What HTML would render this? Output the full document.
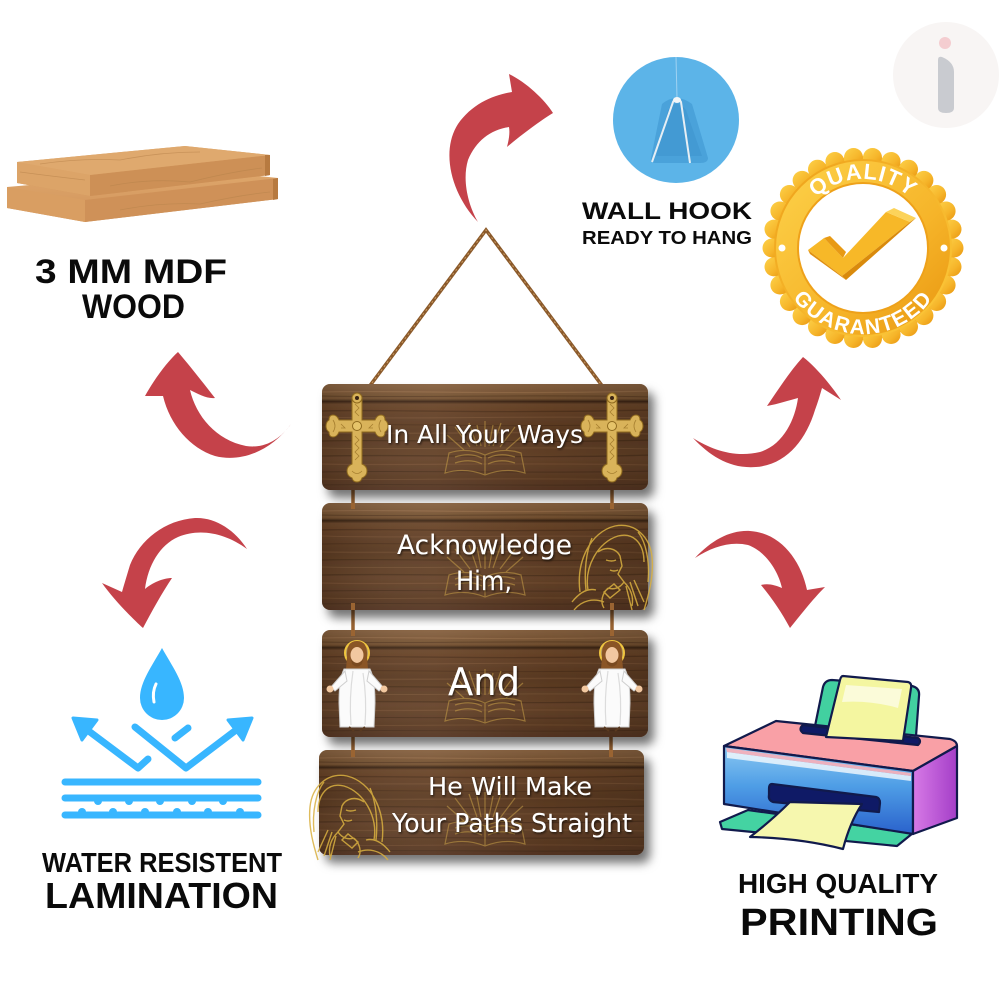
<!DOCTYPE html>
<html><head><meta charset="utf-8"><title>Wall hanging</title>
<style>
html,body{margin:0;padding:0;background:#fff;}
svg{display:block;}
.lbl{font-family:"Liberation Sans",Arial,sans-serif;font-weight:bold;fill:#0a0a0a;}
.bt{font-family:"DejaVu Sans","Liberation Sans",sans-serif;fill:#fff;}
</style></head>
<body>
<svg width="1000" height="1000" viewBox="0 0 1000 1000" xmlns="http://www.w3.org/2000/svg">
<defs>
  <linearGradient id="wood" x1="0" y1="0" x2="0" y2="1">
    <stop offset="0" stop-color="#86603f"/>
    <stop offset="0.14" stop-color="#73502f"/>
    <stop offset="0.165" stop-color="#3a2414"/>
    <stop offset="0.19" stop-color="#6a4529"/>
    <stop offset="0.45" stop-color="#5b3a22"/>
    <stop offset="0.7" stop-color="#664329"/>
    <stop offset="1" stop-color="#553520"/>
  </linearGradient>
  <linearGradient id="woodH" x1="0" y1="0" x2="1" y2="0">
    <stop offset="0" stop-color="#000" stop-opacity="0.12"/>
    <stop offset="0.35" stop-color="#fff" stop-opacity="0.05"/>
    <stop offset="0.7" stop-color="#000" stop-opacity="0.05"/>
    <stop offset="1" stop-color="#000" stop-opacity="0.15"/>
  </linearGradient>
  <filter id="sh" x="-10%" y="-20%" width="130%" height="160%">
    <feDropShadow dx="6" dy="8" stdDeviation="5" flood-color="#000" flood-opacity="0.55"/>
  </filter>
  <filter id="tsh" x="-10%" y="-30%" width="120%" height="160%">
    <feDropShadow dx="1" dy="1.5" stdDeviation="1" flood-color="#000" flood-opacity="0.6"/>
  </filter>
  <linearGradient id="gold" x1="0" y1="0" x2="1" y2="1">
    <stop offset="0" stop-color="#fdd24a"/>
    <stop offset="0.6" stop-color="#f6b52a"/>
    <stop offset="1" stop-color="#e8950f"/>
  </linearGradient>
  <linearGradient id="gold2" x1="1" y1="1" x2="0" y2="0">
    <stop offset="0" stop-color="#fcc93a"/>
    <stop offset="1" stop-color="#eea11a"/>
  </linearGradient>
  <linearGradient id="pfront" x1="0" y1="0" x2="0" y2="1">
    <stop offset="0" stop-color="#8ac8f2"/>
    <stop offset="0.45" stop-color="#4f9ee6"/>
    <stop offset="1" stop-color="#2a62cc"/>
  </linearGradient>
  <linearGradient id="pside" x1="0" y1="0" x2="1" y2="0">
    <stop offset="0" stop-color="#d77ae6"/>
    <stop offset="1" stop-color="#a43ec8"/>
  </linearGradient>
  <linearGradient id="plank" x1="0" y1="0" x2="0" y2="1">
    <stop offset="0" stop-color="#dfa86c"/>
    <stop offset="1" stop-color="#d0925a"/>
  </linearGradient>
  <g id="grain">
    <path d="M0,8 C80,6 170,11 330,7" stroke="#a07550" stroke-width="1.2" fill="none" opacity="0.5"/>
    <path d="M0,12 C90,14 200,10 330,13" stroke="#4a2e1a" stroke-width="1" fill="none" opacity="0.5"/>
    <path d="M0,27 C60,25 150,30 330,26" stroke="#3c2414" stroke-width="1.3" fill="none" opacity="0.45"/>
    <path d="M0,33 C100,36 210,31 330,34" stroke="#8a6040" stroke-width="1" fill="none" opacity="0.45"/>
    <path d="M0,41 C70,39 180,44 330,40" stroke="#3c2414" stroke-width="1" fill="none" opacity="0.4"/>
    <path d="M0,49 C120,51 220,46 330,50" stroke="#83593a" stroke-width="1.5" fill="none" opacity="0.4"/>
    <path d="M0,57 C90,55 170,60 330,56" stroke="#33200f" stroke-width="1.2" fill="none" opacity="0.4"/>
    <path d="M0,64 C80,66 200,62 330,65" stroke="#8c6344" stroke-width="1" fill="none" opacity="0.4"/>
    <path d="M0,72 C110,70 200,75 330,71" stroke="#3a2313" stroke-width="1.3" fill="none" opacity="0.45"/>
    <path d="M0,80 C70,82 190,78 330,81" stroke="#8a6040" stroke-width="1.2" fill="none" opacity="0.4"/>
    <path d="M0,88 C100,86 210,90 330,87" stroke="#33200f" stroke-width="1" fill="none" opacity="0.4"/>
    <path d="M0,95 C60,97 170,93 330,96" stroke="#8a6040" stroke-width="1" fill="none" opacity="0.35"/>
    <path d="M0,101 C90,99 220,103 330,100" stroke="#3a2313" stroke-width="1" fill="none" opacity="0.4"/>
  </g>
  <g id="bible" fill="none" stroke="#c8a048" stroke-width="1.2" opacity="0.55">
    <path d="M-40,18 L-36,-2 Q-18,-8 0,0 Q18,-8 36,-2 L40,18 Q20,12 0,20 Q-20,12 -40,18 Z"/>
    <path d="M0,0 L0,20"/>
    <path d="M-30,2 Q-15,-3 -3,3 M-30,8 Q-15,3 -3,9 M30,2 Q15,-3 3,3 M30,8 Q15,3 3,9"/>
    <path d="M0,-8 L0,-34 M-8,-9 L-16,-32 M8,-9 L16,-32 M-15,-8 L-30,-28 M15,-8 L30,-28 M-21,-5 L-38,-20 M21,-5 L38,-20 M-4,-9 L-8,-30 M4,-9 L8,-30"/>
  </g>
  <g id="cross">
    <path d="M-5,2 L5,2 L5,22 L18,22 Q20,17 24,17 Q28,17 28,22 Q31,24 31,28 Q31,32 28,34 Q28,39 24,39 Q20,39 18,34 L5,34 L5,66 Q10,68 10,73 Q10,78 5,80 Q4,84 0,84 Q-4,84 -5,80 Q-10,78 -10,73 Q-10,68 -5,66 L-5,34 L-18,34 Q-20,39 -24,39 Q-28,39 -28,34 Q-31,32 -31,28 Q-31,24 -28,22 Q-28,17 -24,17 Q-20,17 -18,22 L-5,22 Z" fill="#d9b35a" stroke="#8f6a1e" stroke-width="1"/>
    <g fill="none" stroke="#9a7326" stroke-width="0.8" opacity="0.8">
      <path d="M-2,6 L2,10 L-2,14 L2,18 M-2,38 L2,42 L-2,46 L2,50 L-2,54 L2,58 L-2,62"/>
      <path d="M-24,22 Q-20,28 -24,34 M24,22 Q20,28 24,34 M-5,73 Q0,78 5,73"/>
      <path d="M-16,26 L-12,30 L-16,30 M16,26 L12,30 L16,30"/>
    </g>
    <circle cx="0" cy="28" r="4.5" fill="#e6c46a" stroke="#8f6a1e" stroke-width="1"/>
    <circle cx="0" cy="0" r="5" fill="#d9b35a" stroke="#8f6a1e" stroke-width="1"/>
    <circle cx="0" cy="0" r="2" fill="#3a2414"/>
  </g>
  <g id="jesus">
    <circle cx="0" cy="-30" r="12" fill="#f5e08a" opacity="0.55"/>
    <circle cx="0" cy="-30" r="12" fill="none" stroke="#f0c640" stroke-width="2"/>
    <path d="M-10,-26 Q-11,-42 0,-42 Q11,-42 10,-26 L11,-14 L-11,-14 Z" fill="#8a5526"/>
    <ellipse cx="0" cy="-28" rx="6.5" ry="8" fill="#f2c8a0"/>
    <path d="M-6,-24 Q0,-16 6,-24 L5,-19 Q0,-14 -5,-19 Z" fill="#7a4a20"/>
    <path d="M-13,-14 L13,-14 Q18,-4 18,20 L17,44 L-17,44 L-18,20 Q-18,-4 -13,-14 Z" fill="#fbfbfb" stroke="#cfcfcf" stroke-width="1"/>
    <path d="M-12,-12 L-26,4 L-22,8 L-10,-2 Z M12,-12 L26,4 L22,8 L10,-2 Z" fill="#fbfbfb" stroke="#cfcfcf" stroke-width="1"/>
    <circle cx="-27" cy="6" r="3.5" fill="#f2c8a0"/>
    <circle cx="27" cy="6" r="3.5" fill="#f2c8a0"/>
    <path d="M-4,-12 Q-8,15 -6,42 M6,-10 Q10,15 8,42" stroke="#dcdcdc" fill="none" stroke-width="1.2"/>
    <path d="M-8,44 L-3,48 M3,48 L8,44" stroke="#5a3a20" stroke-width="2"/>
  </g>
  <g id="pray" fill="none" stroke="#d9b040" stroke-width="1.4" opacity="0.85">
    <path d="M-30,30 C-34,0 -20,-30 5,-36 C25,-40 40,-25 42,-5 C44,15 38,35 34,48"/>
    <path d="M-22,28 C-26,5 -12,-20 8,-26 C24,-30 34,-18 34,0"/>
    <path d="M-12,-10 C-4,-16 6,-14 10,-6 L12,4 L8,12 L14,20 C10,26 4,28 -2,26"/>
    <path d="M-4,-2 Q2,0 6,-2 M0,8 Q4,10 8,8"/>
    <path d="M-2,26 C-8,32 -10,40 -6,46 M14,20 C20,26 24,34 22,44"/>
    <path d="M-6,30 L4,22 L10,28 L0,36 Z"/>
    <path d="M-36,48 C-28,38 -16,36 -6,40 M-38,40 C-30,30 -22,26 -14,28"/>
    <path d="M20,20 L28,44 M24,18 L34,40 M16,24 L22,48"/>
    <path d="M-18,-24 C-24,-10 -26,10 -24,28 M28,-30 C36,-20 40,0 38,20"/>
  </g>
  <clipPath id="c1"><rect x="322" y="384" width="326" height="106" rx="8"/></clipPath>
  <clipPath id="c2"><rect x="322" y="503" width="326" height="107" rx="8"/></clipPath>
  <clipPath id="c3"><rect x="322" y="630" width="326" height="107" rx="8"/></clipPath>
  <clipPath id="c4"><rect x="319" y="750" width="325" height="105" rx="8"/></clipPath>
  <path id="qa" d="M794,248 A69,69 0 0 1 932,248"/>
  <path id="ga" d="M777,248 A86,86 0 0 0 949,248"/>
</defs>

<rect width="1000" height="1000" fill="#fff"/>

<!-- watermark -->
<circle cx="946" cy="75" r="53" fill="#f8f5f4"/>
<circle cx="945" cy="43" r="6" fill="#f4cdd0"/>
<path d="M938,60 Q938,56 942,57 Q954,62 954,72 L954,108 Q954,113 946,113 Q938,113 938,108 Z" fill="#c9cbd0"/>

<!-- wood planks -->
<g>
  <path d="M7,187 L200,170 L278,178 L278,199 L85,222 L7,208 Z" fill="url(#plank)"/>
  <path d="M7,187 L85,200 L85,222 L7,208 Z" fill="#d99e62"/>
  <path d="M85,200 L278,178 L278,199 L85,222 Z" fill="#cf9158"/>
  <path d="M17,162 L185,146 L270,155 L270,175 L90,196 L17,183 Z" fill="url(#plank)"/>
  <path d="M17,162 L90,175 L90,196 L17,183 Z" fill="#dca468"/>
  <path d="M90,175 L270,155 L270,175 L90,196 Z" fill="#cd9056"/>
  <path d="M17,162 L185,146 L270,155 L90,175 Z" fill="#dfa96e"/>
  <path d="M265,155 L270,155 L270,175 L265,176 Z" fill="#b77a40"/>
  <path d="M273,179 L278,178 L278,199 L273,200 Z" fill="#b77a40"/>
  <g fill="none" stroke="#b9844c" stroke-width="0.8" opacity="0.6">
    <path d="M40,164 Q80,158 120,160 Q160,152 200,152"/>
    <path d="M110,186 Q150,178 190,182 Q230,172 262,168"/>
    <path d="M120,210 Q160,202 200,204 Q240,195 270,192"/>
    <path d="M20,172 Q50,176 85,180"/>
  </g>
</g>
<text class="lbl" x="35" y="283" font-size="34" textLength="192" lengthAdjust="spacingAndGlyphs">3 MM MDF</text>
<text class="lbl" x="82" y="318" font-size="34" textLength="103" lengthAdjust="spacingAndGlyphs">WOOD</text>

<!-- wall hook -->
<circle cx="676" cy="120" r="63" fill="#5cb4e8"/>
<path d="M676,57 L677,98" stroke="#9fd2f2" stroke-width="1"/>
<path d="M662,104 Q676,92 692,104 L708,158 Q708,163 700,163 L656,163 Q650,163 651,158 Z" fill="#4aa2da"/>
<path d="M668,110 Q676,98 686,110 L702,156 L656,156 Z" fill="#3f95cf" opacity="0.6"/>
<path d="M652,162 L673,102 Q677,95 681,102 L690,163" fill="none" stroke="#e6eef4" stroke-width="2"/>
<ellipse cx="677" cy="100" rx="4" ry="3" fill="#f2f6f8"/>
<text class="lbl" x="582" y="219" font-size="24" textLength="170" lengthAdjust="spacingAndGlyphs">WALL HOOK</text>
<text class="lbl" x="582" y="244" font-size="18" textLength="170" lengthAdjust="spacingAndGlyphs">READY TO HANG</text>

<!-- quality badge -->
<g>
  <g fill="url(#gold)">
    <circle cx="863" cy="248" r="92"/>
    <circle cx="954" cy="248" r="9.5"/><circle cx="952" cy="266.9" r="9.5"/><circle cx="946.1" cy="285" r="9.5"/><circle cx="936.6" cy="301.5" r="9.5"/>
    <circle cx="923.9" cy="315.6" r="9.5"/><circle cx="908.5" cy="326.8" r="9.5"/><circle cx="891.1" cy="334.5" r="9.5"/><circle cx="872.5" cy="338.5" r="9.5"/>
    <circle cx="853.5" cy="338.5" r="9.5"/><circle cx="834.9" cy="334.5" r="9.5"/><circle cx="817.5" cy="326.8" r="9.5"/><circle cx="802.1" cy="315.6" r="9.5"/>
    <circle cx="789.4" cy="301.5" r="9.5"/><circle cx="779.9" cy="285" r="9.5"/><circle cx="774" cy="266.9" r="9.5"/><circle cx="772" cy="248" r="9.5"/>
    <circle cx="774" cy="229.1" r="9.5"/><circle cx="779.9" cy="211" r="9.5"/><circle cx="789.4" cy="194.5" r="9.5"/><circle cx="802.1" cy="180.4" r="9.5"/>
    <circle cx="817.5" cy="169.2" r="9.5"/><circle cx="834.9" cy="161.5" r="9.5"/><circle cx="853.5" cy="157.5" r="9.5"/><circle cx="872.5" cy="157.5" r="9.5"/>
    <circle cx="891.1" cy="161.5" r="9.5"/><circle cx="908.5" cy="169.2" r="9.5"/><circle cx="923.9" cy="180.4" r="9.5"/><circle cx="936.6" cy="194.5" r="9.5"/>
    <circle cx="946.1" cy="211" r="9.5"/><circle cx="952" cy="229.1" r="9.5"/>
  </g>
  <circle cx="863" cy="248" r="89" fill="url(#gold2)"/>
  <circle cx="863" cy="248" r="87" fill="url(#gold)"/>
  <circle cx="863" cy="248" r="66" fill="#eea11a"/>
  <circle cx="863" cy="248" r="64" fill="#fff"/>
  <circle cx="782" cy="248" r="3.5" fill="#fff"/>
  <circle cx="944" cy="248" r="3.5" fill="#fff"/>
  <text font-family="Liberation Sans,Arial,sans-serif" font-weight="bold" font-size="22" fill="#fff" letter-spacing="1"><textPath href="#qa" startOffset="50%" text-anchor="middle">QUALITY</textPath></text>
  <text font-family="Liberation Sans,Arial,sans-serif" font-weight="bold" font-size="21" fill="#fff" letter-spacing="1.5"><textPath href="#ga" startOffset="50%" text-anchor="middle">GUARANTEED</textPath></text>
  <!-- checkmark -->
  <path d="M808,250 L824,238 L843,258 L886,212 L910,222 L842,276 Z" fill="#f7b828"/>
  <path d="M824,238 L830,236 L846,252 L843,258 Z" fill="#e89a14"/>
  <path d="M886,212 L894,208 L916,218 L910,222 Z" fill="#fcd35a"/>
  <path d="M910,222 L916,218 L846,280 L842,276 Z" fill="#d98a0c"/>
  <path d="M808,250 L842,276 L846,280 L810,254 Z" fill="#e09010"/>
</g>

<!-- red arrows -->
<g fill="#c5424a">
  <path d="M478,222 C452,195 440,152 458,124 C472,104 493,95 512,92 L509,74 C526,82 545,100 553,113 C540,121 521,135 507,147 C509,139 510,133 509,127 C490,130 476,141 468,160 C462,180 468,205 478,222 Z"/>
  <path d="M291,424 C272,450 242,463 215,456 C190,448 170,425 163,396 L145,396 C155,378 168,361 178,352 C190,366 204,384 215,398 C207,399 198,394 190,390 C196,416 216,440 246,446 C266,449 281,438 291,424 Z"/>
  <path d="M247,549 C235,530 215,517 195,518 C165,520 140,540 130,565 C127,575 124,585 122,592 L102,583 C114,600 132,618 143,628 C152,611 162,593 172,578 C163,578 152,583 145,589 C148,565 160,545 178,537 C200,528 225,533 247,549 Z"/>
  <path d="M693,438 C710,456 730,469 756,467 C786,465 806,440 815,410 C818,402 820,395 822,388 L841,400 C831,385 815,366 803,357 C790,371 778,390 767,406 C778,404 790,400 798,398 C795,420 783,445 760,452 C735,458 712,450 693,438 Z"/>
  <path d="M695,558 C712,540 730,530 750,531 C781,533 801,561 807,590 L825,587 C812,600 799,617 790,628 C782,613 772,598 761,585 C768,583 775,585 782,588 C778,570 765,551 748,545 C730,541 712,547 695,558 Z"/>
</g>

<!-- water icon -->
<g stroke="#38b6ff" stroke-width="7" stroke-linecap="round" stroke-linejoin="round" fill="none">
  <path d="M78,723 L138,768 L148,759"/>
  <path d="M135,727 L186,768 L244,724"/>
  <path d="M175,738 L188,728"/>
  <path d="M65,782 L258,782"/>
  <path d="M65,798 L258,798"/>
  <path d="M65,815 L258,815"/>
</g>
<g fill="#38b6ff" stroke="#38b6ff" stroke-width="3" stroke-linejoin="round">
  <path d="M73,718 L97,720 L82,740 Z"/>
  <path d="M252,718 L228,720 L243,740 Z"/>
</g>
<g fill="#38b6ff">
  <circle cx="98" cy="801" r="4"/><circle cx="129" cy="801" r="4"/><circle cx="160" cy="801" r="4"/><circle cx="192" cy="801" r="4"/><circle cx="223" cy="801" r="4"/>
  <circle cx="82" cy="812" r="4"/><circle cx="113" cy="812" r="4"/><circle cx="145" cy="812" r="4"/><circle cx="177" cy="812" r="4"/><circle cx="208" cy="812" r="4"/><circle cx="240" cy="812" r="4"/>
  <path d="M162,648 C152,666 140,682 140,698 A22,22 0 0 0 184,698 C184,682 172,666 162,648 Z"/>
</g>
<path d="M156,684 Q152,692 154,702" stroke="#fff" stroke-width="3" stroke-linecap="round" fill="none"/>
<text class="lbl" x="42" y="872" font-size="28" textLength="240" lengthAdjust="spacingAndGlyphs">WATER RESISTENT</text>
<text class="lbl" x="45" y="908" font-size="36" textLength="233" lengthAdjust="spacingAndGlyphs">LAMINATION</text>

<!-- printer -->
<g stroke="#111a4c" stroke-width="2.2" stroke-linejoin="round">
  <path d="M720,822 L748,810 L913,833 L897,846 L722,829 Z" fill="#44d3a2"/>
  <path d="M815,726 L823,687 Q825,680 832,680 L912,686 Q920,688 919,696 L916,736 Z" fill="#42d0a0"/>
  <path d="M724,746 L776,721 L950,739 Q957,741 957,746 L913,771 Z" fill="#f9a0a6"/>
  <path d="M803,725 L918,738 Q922,741 918,745 L803,733 Q798,729 803,725 Z" fill="#0f1a66"/>
  <path d="M843,676 L908,682 Q912,683 911,688 L903,741 L826,737 L840,680 Q841,676 843,676 Z" fill="#f4f6a0"/>
  <path d="M724,746 L913,771 L913,834 L724,804 Z" fill="url(#pfront)"/>
  <path d="M913,771 L957,746 L957,818 L913,834 Z" fill="url(#pside)"/>
  <path d="M772,784 L876,797 Q880,798 880,803 L879,812 L773,802 Q768,800 769,795 L769,789 Q769,784 772,784 Z" fill="#0f1a66"/>
  <path d="M790,802 L862,804 Q850,822 843,849 Q800,838 750,837 Q772,820 790,802 Z" fill="#f6f7ae"/>
</g>
<path d="M727,752 L911,776 L911,781 L727,758 Z" fill="#fff" opacity="0.75"/>
<path d="M726,748 L911,773 L911,776 L727,752 Z" fill="#fbb0b8" opacity="0.9"/>
<path d="M846,685 L902,689 L898,708 Q870,700 842,702 Z" fill="#fff" opacity="0.6"/>
<text class="lbl" x="738" y="893" font-size="28" textLength="200" lengthAdjust="spacingAndGlyphs">HIGH QUALITY</text>
<text class="lbl" x="740" y="935" font-size="38" textLength="198" lengthAdjust="spacingAndGlyphs">PRINTING</text>

<!-- rope -->
<path d="M360,399 L486,230 L612,399" fill="none" stroke="#8b5a2b" stroke-width="3.5" stroke-linejoin="miter"/>
<path d="M360,399 L486,230 L612,399" fill="none" stroke="#c99a62" stroke-width="1" stroke-dasharray="2 3"/>
<!-- vertical cords -->
<g stroke="#9a6432" stroke-width="3.5">
  <path d="M353,486 L353,506"/><path d="M612,486 L612,506"/>
  <path d="M353,606 L353,634"/><path d="M612,606 L612,634"/>
  <path d="M353,733 L353,754"/><path d="M611,733 L611,754"/>
</g>

<!-- boards -->
<g filter="url(#sh)">
  <rect x="322" y="384" width="326" height="106" rx="8" fill="url(#wood)"/>
  <rect x="322" y="503" width="326" height="107" rx="8" fill="url(#wood)"/>
  <rect x="322" y="630" width="326" height="107" rx="8" fill="url(#wood)"/>
  <rect x="319" y="750" width="325" height="105" rx="8" fill="url(#wood)"/>
</g>
<g clip-path="url(#c1)"><use href="#grain" x="322" y="384"/><rect x="322" y="384" width="326" height="106" fill="url(#woodH)"/></g>
<g clip-path="url(#c2)"><use href="#grain" x="322" y="503"/><rect x="322" y="503" width="326" height="107" fill="url(#woodH)"/></g>
<g clip-path="url(#c3)"><use href="#grain" x="322" y="630"/><rect x="322" y="630" width="326" height="107" fill="url(#woodH)"/></g>
<g clip-path="url(#c4)"><use href="#grain" x="319" y="750"/><rect x="319" y="750" width="325" height="105" fill="url(#woodH)"/></g>

<!-- cord holes at board edges -->
<g fill="#9a6432">
  <rect x="351" y="603" width="4" height="7"/><rect x="610" y="603" width="4" height="7"/>
  <rect x="351" y="630" width="4" height="6"/><rect x="610" y="630" width="4" height="6"/>
  <rect x="351" y="750" width="4" height="7"/><rect x="609" y="750" width="4" height="7"/>
  <rect x="351" y="503" width="4" height="6"/><rect x="610" y="503" width="4" height="6"/>
</g>

<!-- board decorations -->
<use href="#bible" x="485" y="455"/>
<use href="#bible" x="485" y="577"/>
<use href="#bible" x="485" y="703"/>
<use href="#bible" x="485" y="826"/>
<use href="#cross" x="357" y="398"/>
<use href="#cross" x="612" y="398"/>
<use href="#pray" x="610" y="562"/>
<g transform="translate(352,812) scale(-1,1)"><use href="#pray"/></g>
<use href="#jesus" x="357" y="683"/>
<use href="#jesus" x="612" y="683"/>

<!-- board text -->
<g filter="url(#tsh)">
  <text class="bt" x="386" y="443" font-size="25" textLength="197" lengthAdjust="spacingAndGlyphs">In All Your Ways</text>
  <text class="bt" x="397" y="554" font-size="27" textLength="175" lengthAdjust="spacingAndGlyphs">Acknowledge</text>
  <text class="bt" x="456" y="590" font-size="27" textLength="56" lengthAdjust="spacingAndGlyphs">Him,</text>
  <text class="bt" x="448" y="695" font-size="38" textLength="72" lengthAdjust="spacingAndGlyphs">And</text>
  <text class="bt" x="428" y="795" font-size="25" textLength="164" lengthAdjust="spacingAndGlyphs">He Will Make</text>
  <text class="bt" x="392" y="832" font-size="26" textLength="240" lengthAdjust="spacingAndGlyphs">Your Paths Straight</text>
</g>
</svg>
</body></html>
